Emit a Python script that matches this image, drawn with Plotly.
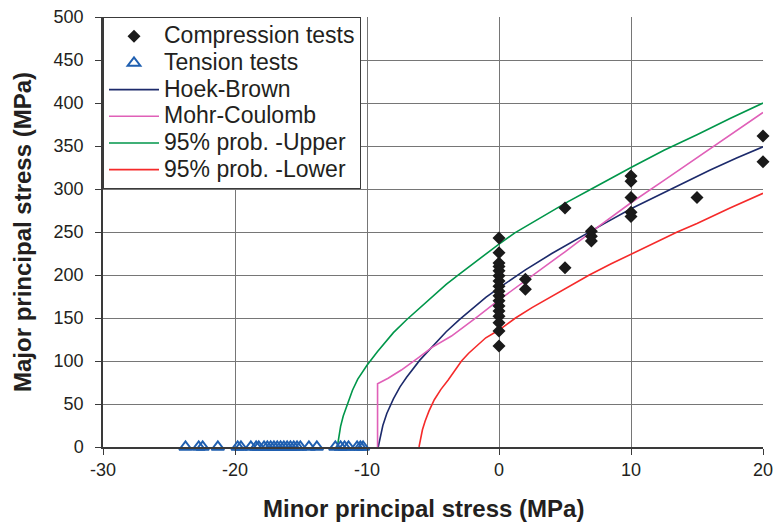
import plotly.graph_objects as go

# --- Test results ---------------------------------------------------------
comp_sigma3 = [0] * 17 + [2, 2, 5, 5, 7, 7, 7, 10, 10, 10, 10, 10, 15, 20, 20]
comp_sigma1 = [243, 226, 214, 210, 205, 199, 193, 187, 181, 176, 170, 164, 158,
               152, 144.5, 135, 117.5,
               195, 183.5, 278, 208.5, 251, 245, 239.5,
               315, 309, 290, 273, 268, 290, 361.6, 331.6]

tens_sigma3 = [-23.75, -22.75, -22.45, -21.3, -19.8, -19.55, -18.8, -18.4, -18.2,
               -17.8, -17.55, -17.3, -17.05, -16.8, -16.55, -16.3, -16.05, -15.8,
               -15.55, -15.3, -15.05, -14.4, -13.8, -12.4, -12.0, -11.7, -11.4,
               -10.75, -10.5, -10.3]
tens_sigma1 = [0] * len(tens_sigma3)

# --- Failure envelopes ----------------------------------------------------
hb_sigma3 = [-9.15, -9.0, -8.8, -8.5, -8.0, -7.5, -7.0, -6.0, -5.0, -4.0, -3.0,
             -2.0, -1.0, 0, 2, 4, 6, 8, 10, 12, 14, 16, 18, 20]
hb_sigma1 = [0, 10, 25, 39, 56, 70, 81, 101, 118, 134, 148, 161, 174, 185, 206,
             225, 243, 260, 277, 292, 307, 322, 336, 349]

mc_sigma3 = [-9.2, -9.2, -8.4, -7.4, -6.1, -5.1, -3.6, -2.6, -1.6, 0, 2, 5, 7.5,
             10, 12.5, 15, 17.5, 20]
mc_sigma1 = [0, 73.5, 80, 89.5, 104, 115.5, 129, 140, 152, 171, 193, 227, 256,
             284, 310, 336, 362, 389]

up_sigma3 = [-12.25, -12.15, -12.0, -11.8, -11.5, -11.1, -10.7, -10.3, -10,
             -9.2, -8.5, -8, -7, -6, -5, -4, -3, -2, -1, 0, 1.2, 2.5, 4, 5.2,
             7, 8.5, 10, 12.5, 15, 17.5, 20]
up_sigma1 = [0, 12, 24, 36, 50, 66, 79, 89, 95, 111, 124, 133, 148, 162, 176,
             189, 201, 213, 225, 236, 249, 261, 274, 285, 300, 313, 325, 345,
             363, 382, 400]

lo_sigma3 = [-6.06, -5.95, -5.8, -5.6, -5.3, -4.9, -4.4, -3.85, -3.3, -2.84,
             -2.3, -1.6, -1.0, 0, 1.25, 2.5, 4, 5.5, 6.84, 8.5, 10, 11.5, 13.5,
             15, 17.5, 20]
lo_sigma1 = [0, 10, 20, 30, 42, 55, 67, 78, 90, 100, 109, 119, 127, 136, 150,
             162, 175, 188, 200, 213, 224, 235, 250, 260, 278, 295]

x_ticks = [-30, -20, -10, 0, 10, 20]
x_tick_text = ["-30", "-20", "-10", "0", "10", "20"]
y_ticks = list(range(0, 501, 50))

FONT = "Liberation Sans, Arial, sans-serif"
TEXT = "#231f20"
GRID = "#767676"
AXIS = "#3a3a3a"


def legend_label(text):
    # larger glyphs inside a compact legend row
    return f"<span style='font-size:23px'>{text}</span>"


fig = go.Figure()

envelopes = [
    ("Hoek-Brown", hb_sigma3, hb_sigma1, "#1c2a6b", 3),
    ("Mohr-Coulomb", mc_sigma3, mc_sigma1, "#e060b8", 4),
    ("95% prob. -Upper", up_sigma3, up_sigma1, "#00964a", 5),
    ("95% prob. -Lower", lo_sigma3, lo_sigma1, "#f52a2a", 6),
]
for name, xs, ys, color, rank in envelopes:
    fig.add_trace(go.Scatter(
        x=xs, y=ys, mode="lines", name=legend_label(name), legendrank=rank,
        line=dict(color=color, width=1.6), cliponaxis=False,
    ))

fig.add_trace(go.Scatter(
    x=tens_sigma3, y=tens_sigma1, mode="markers",
    name=legend_label("Tension tests"),
    legendrank=2, cliponaxis=False,
    marker=dict(symbol="triangle-up-open", size=11, color="#1f5fb0",
                line=dict(width=2, color="#1f5fb0")),
))
fig.add_trace(go.Scatter(
    x=comp_sigma3, y=comp_sigma1, mode="markers",
    name=legend_label("Compression tests"),
    legendrank=1, cliponaxis=False,
    marker=dict(symbol="diamond", size=10, color="#1a1a1a"),
))

fig.update_layout(
    width=774, height=522,
    margin=dict(l=103, r=11, t=17, b=75),
    paper_bgcolor="white", plot_bgcolor="white",
    font=dict(family=FONT, color=TEXT, size=18),
    showlegend=True,
    legend=dict(
        x=0, y=1, xanchor="left", yanchor="top",
        bgcolor="white", bordercolor=AXIS, borderwidth=1,
        font=dict(size=18.2, family=FONT, color=TEXT),
        itemwidth=50, tracegroupgap=0,
    ),
    annotations=[dict(
        text="<b>Minor principal stress (MPa)</b>",
        xref="paper", yref="paper", x=0.485, y=0,
        xanchor="center", yanchor="middle", yshift=-61, showarrow=False,
        font=dict(size=24, family=FONT, color=TEXT),
    )],
)

fig.update_xaxes(
    range=[-30, 20], tickvals=x_ticks, ticktext=x_tick_text,
    ticklabeloverflow="allow", automargin=False,
    showgrid=True, gridcolor=GRID, gridwidth=1,
    showline=True, linecolor=AXIS, linewidth=1.5,
    ticks="outside", ticklen=6, tickcolor=AXIS,
    zeroline=False,
    tickfont=dict(size=18, family=FONT, color=TEXT),
)
fig.update_yaxes(
    range=[0, 500], tickvals=y_ticks,
    ticklabeloverflow="allow", ticklabelstandoff=8, automargin=False,
    showgrid=True, gridcolor=GRID, gridwidth=1,
    showline=True, linecolor=AXIS, linewidth=1.5,
    ticks="outside", ticklen=6, tickcolor=AXIS,
    zeroline=False,
    tickfont=dict(size=18, family=FONT, color=TEXT),
    title=dict(text="<b>Major principal stress (MPa)</b>",
               font=dict(size=24, family=FONT, color=TEXT), standoff=15),
)

fig.write_html("out.html")
